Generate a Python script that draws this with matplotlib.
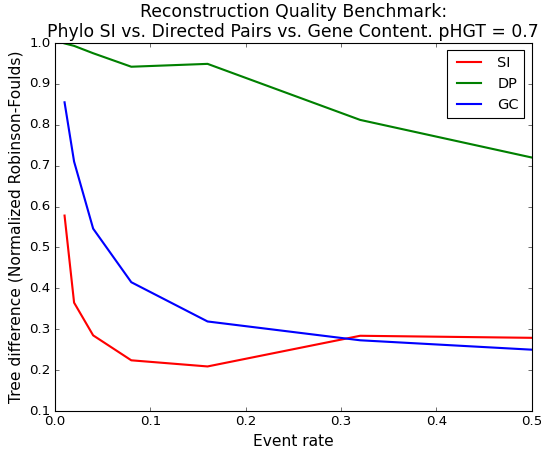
import matplotlib
matplotlib.use("Agg")
import matplotlib.pyplot as plt

plt.style.use("classic")

event_rate = [0.01, 0.02, 0.04, 0.08, 0.16, 0.32, 0.5]
si = [0.578, 0.365, 0.285, 0.224, 0.209, 0.284, 0.279]
dp = [0.999, 0.993, 0.975, 0.942, 0.949, 0.812, 0.720]
gc = [0.855, 0.710, 0.546, 0.415, 0.319, 0.273, 0.250]

fig = plt.figure(figsize=(541 / 80, 449 / 80), dpi=80)
ax = fig.add_axes([0.1017, 0.0846, 0.8811, 0.8196])

ax.plot(event_rate, si, color="r", lw=1.9, label="SI")
ax.plot(event_rate, dp, color="g", lw=1.9, label="DP")
ax.plot(event_rate, gc, color="b", lw=1.9, label="GC")

ax.set_xlim(0, 0.5)
ax.set_ylim(0.1, 1.0)
ax.set_xlabel("Event rate", fontsize=14)
ax.set_ylabel("Tree difference (Normalized Robinson-Foulds)", fontsize=14)
ax.set_title("Reconstruction Quality Benchmark:\n"
             "Phylo SI vs. Directed Pairs vs. Gene Content. pHGT = 0.7",
             fontsize=15.5)
ax.legend(loc="upper right", fontsize=13, handlelength=2.3)

fig.savefig("out.png", dpi=80)
